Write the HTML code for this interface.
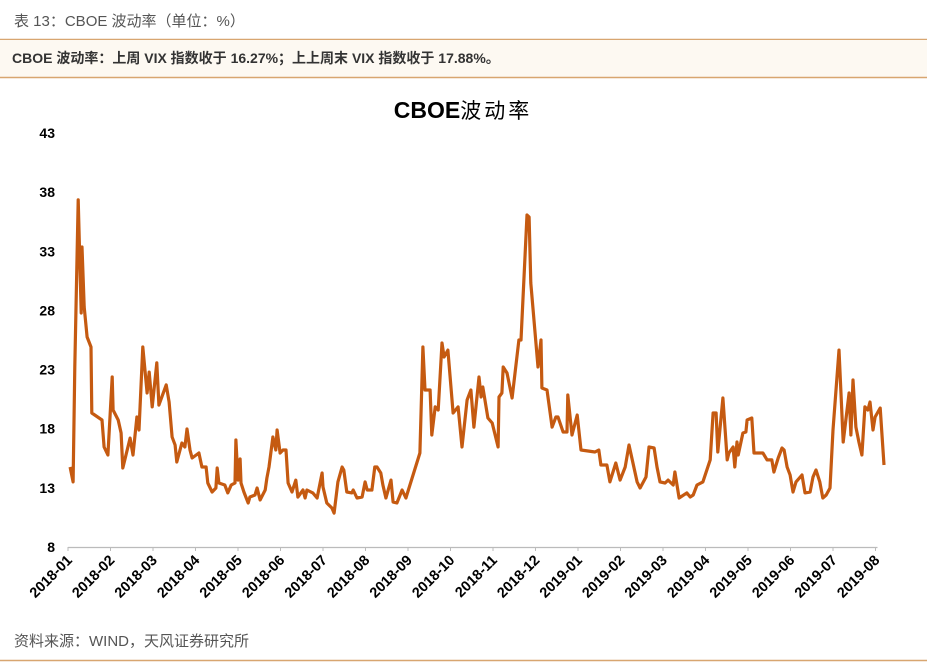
<!DOCTYPE html>
<html><head><meta charset="utf-8">
<style>
body{margin:0;width:927px;height:664px;background:#fff;overflow:hidden;font-family:"Liberation Sans","Noto Sans CJK SC",sans-serif;}
svg{position:absolute;left:0;top:0}
</style></head>
<body>
<svg width="927" height="664">
<text x="14" y="26" font-size="15" fill="#555" font-family="Liberation Sans, Noto Sans CJK SC, sans-serif">表 13：CBOE 波动率（单位：%）</text>
<line x1="0" y1="39.5" x2="927" y2="39.5" stroke="#d8a670" stroke-width="1.5"/>
<rect x="0" y="40" width="927" height="37" fill="#fdf9f2"/>
<text x="12" y="63" font-size="14" font-weight="bold" fill="#333" font-family="Liberation Sans, Noto Sans CJK SC, sans-serif">CBOE 波动率：上周 VIX 指数收于 16.27%；上上周末 VIX 指数收于 17.88%。</text>
<line x1="0" y1="77.5" x2="927" y2="77.5" stroke="#d8a670" stroke-width="1.5"/>
<text x="463" y="118" font-size="23" font-weight="bold" fill="#000" text-anchor="middle" font-family="Liberation Sans, Noto Sans CJK SC, sans-serif">CBOE<tspan font-weight="normal" font-size="21" letter-spacing="3">波动率</tspan></text>
<g id="yaxis"></g><g id="xaxis"></g><g id="plot"></g>
<text x="14" y="646" font-size="15" fill="#555" font-family="Liberation Sans, Noto Sans CJK SC, sans-serif">资料来源：WIND，天风证券研究所</text>
<line x1="0" y1="660.5" x2="927" y2="660.5" stroke="#d8a670" stroke-width="1.5"/>
</svg>
<script>
const yTicks=[8,13,18,23,28,33,38,43];
const monthLabels=["2018-01","2018-02","2018-03","2018-04","2018-05","2018-06","2018-07","2018-08","2018-09","2018-10","2018-11","2018-12","2019-01","2019-02","2019-03","2019-04","2019-05","2019-06","2019-07","2019-08"];
const monthPos=[.05,.12,.16,.24,.31,.33,.38,.45,.54,.56,.80,.85,.94,1.04,1.06,1.18,1.25,1.29,1.46,1.53,1.62,1.67,1.76,1.86,1.91,1.98,2.09,2.14,2.31,2.38,2.45,2.52,2.56,2.68,2.75,2.80,2.87,2.92,3.08,3.15,3.25,3.29,3.39,3.48,3.51,3.55,3.69,3.76,3.84,3.93,3.95,4.00,4.05,4.07,4.14,4.24,4.28,4.40,4.45,4.52,4.64,4.68,4.73,4.82,4.89,4.92,4.99,5.06,5.13,5.18,5.27,5.36,5.41,5.53,5.58,5.62,5.76,5.86,5.98,6.00,6.09,6.21,6.26,6.35,6.45,6.49,6.56,6.68,6.71,6.80,6.92,6.99,7.04,7.15,7.22,7.27,7.36,7.41,7.48,7.60,7.65,7.74,7.86,7.95,8.28,8.35,8.40,8.52,8.56,8.64,8.71,8.80,8.85,8.94,9.06,9.18,9.27,9.39,9.48,9.55,9.67,9.72,9.76,9.88,9.98,10.12,10.14,10.21,10.24,10.33,10.45,10.61,10.66,10.80,10.85,10.89,11.06,11.13,11.15,11.27,11.39,11.48,11.53,11.65,11.74,11.76,11.86,11.98,12.07,12.40,12.49,12.54,12.68,12.75,12.89,12.99,13.11,13.20,13.39,13.46,13.60,13.67,13.79,13.86,13.93,14.05,14.12,14.24,14.28,14.38,14.56,14.64,14.71,14.80,14.94,15.11,15.18,15.25,15.29,15.41,15.51,15.55,15.65,15.69,15.74,15.77,15.88,15.95,15.98,16.09,16.14,16.35,16.45,16.56,16.61,16.71,16.80,16.85,16.92,16.99,17.06,17.13,17.27,17.34,17.46,17.53,17.60,17.69,17.76,17.84,17.93,18.00,18.14,18.24,18.38,18.42,18.47,18.54,18.61,18.68,18.75,18.82,18.87,18.94,18.99,19.11,19.20];
const vixValues=[14.76,13.50,23.22,37.34,27.78,33.36,28.29,25.75,24.91,19.33,18.74,16.45,15.78,22.37,19.58,18.74,17.64,14.68,17.21,15.78,18.99,17.89,24.91,21.02,22.79,19.84,23.56,20.00,21.70,20.26,17.30,16.62,15.19,16.79,16.45,17.98,16.20,15.52,15.95,14.76,14.76,13.41,12.65,12.99,14.68,13.41,13.24,12.57,13.24,13.41,17.05,13.66,15.44,13.41,12.65,11.72,12.23,12.40,12.99,11.97,12.82,13.83,14.76,17.30,16.20,17.89,15.95,16.20,16.20,13.41,12.65,13.66,12.23,12.82,12.14,12.82,12.57,12.14,14.26,13.07,11.72,11.30,10.87,13.50,14.76,14.51,12.65,12.57,12.82,12.14,12.23,13.50,12.82,12.82,14.76,14.76,14.26,13.24,12.14,13.66,11.80,11.72,12.82,12.14,15.95,24.91,21.27,21.27,17.47,19.84,19.58,25.25,24.06,24.65,19.33,19.84,16.45,20.43,21.27,18.14,22.37,20.68,21.53,18.91,18.48,16.45,20.68,21.02,23.22,22.71,20.60,25.50,25.50,36.07,35.90,30.32,23.22,25.50,21.44,21.27,18.14,18.99,18.99,17.72,17.72,20.85,17.47,19.16,16.20,16.03,16.20,14.93,14.93,13.50,15.10,13.66,14.76,16.62,13.50,12.99,13.92,16.45,16.37,14.76,13.50,13.41,13.66,13.24,14.34,12.14,12.57,12.23,12.40,13.24,13.50,15.36,19.33,19.33,16.03,20.60,15.36,15.95,16.45,14.76,16.88,15.78,17.64,17.72,18.74,18.91,15.95,15.95,15.36,15.36,14.34,15.52,16.37,16.20,14.76,14.09,12.65,13.50,14.09,12.57,12.65,13.92,14.51,13.50,12.14,12.40,12.99,17.89,24.65,16.88,21.02,17.47,22.12,18.14,16.88,15.78,19.84,19.58,20.26,17.89,18.99,19.75,14.93];

const NS="http://www.w3.org/2000/svg";
const X0=68, XSTEP=42.5, Y0=547, YTOP=133, YMIN=8, YMAX=43;
function xScale(m){return X0+m*XSTEP;}
function yScale(v){return Y0-(v-YMIN)/(YMAX-YMIN)*(Y0-YTOP);}
function mk(tag,attrs,parent){const e=document.createElementNS(NS,tag);for(const k in attrs)e.setAttribute(k,attrs[k]);parent.appendChild(e);return e;}

const yg=document.getElementById('yaxis');
yTicks.forEach(t=>{
  const tx=mk('text',{x:55,y:yScale(t)+5,'font-size':14,'font-weight':'bold','text-anchor':'end',fill:'#000'},yg);
  tx.textContent=t;
  
  
});
const xg=document.getElementById('xaxis');
const ax=mk('line',{x1:X0,y1:Y0+0.5,x2:xScale(19)+2,y2:Y0+0.5,stroke:'#bbb','stroke-width':1.2},xg);


monthLabels.forEach((lab,i)=>{
  const x=xScale(i);
  const tk=mk('line',{x1:x,y1:Y0,x2:x,y2:Y0+4,stroke:'#bbb','stroke-width':1},xg);
  
  
  const tx=mk('text',{x:x+5,y:Y0+14,'font-size':14.5,'font-weight':'bold','text-anchor':'end',fill:'#000',transform:`rotate(-45 ${x+5} ${Y0+14})`},xg);
  tx.textContent=lab;
  
  
});
const pg=document.getElementById('plot');
const d=vixValues.map((v,i)=>(i?'L':'M')+xScale(monthPos[i]).toFixed(1)+' '+yScale(v).toFixed(1)).join(' ');
const line=mk('path',{d:d,fill:'none',stroke:'#c55a11','stroke-width':3.2,'stroke-linejoin':'round'},pg);


</script>
</body></html>
